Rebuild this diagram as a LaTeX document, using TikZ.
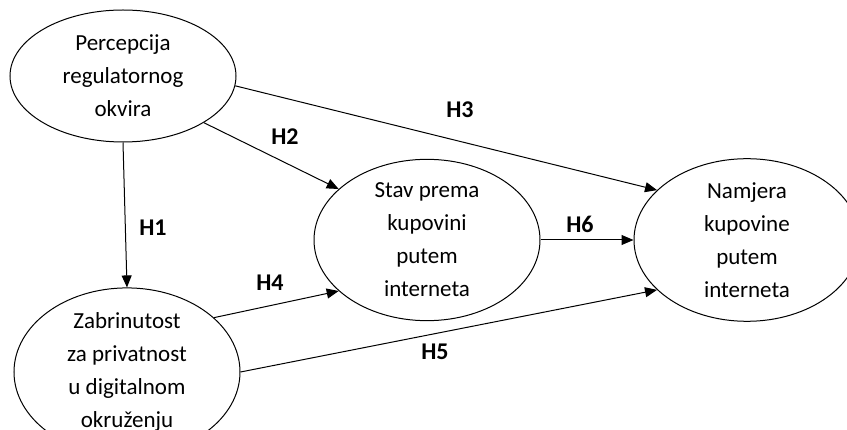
\documentclass[tikz,border=0pt]{standalone}
\usepackage{fontspec}
\setmainfont{Carlito}
\usetikzlibrary{shapes.geometric,arrows.meta}
\begin{document}
\begin{tikzpicture}
		[x=1pt,y=-1pt,
			construct/.style={ellipse,draw,line width=1pt,inner sep=0pt,minimum width=226pt,minimum height=132pt,
				align=center,font=\fontsize{23}{33}\selectfont},
			hyp/.style={-{Triangle[length=12pt,width=10pt]},line width=1pt},
			hlabel/.style={font=\fontsize{24}{26}\selectfont\bfseries}]
	\useasboundingbox (0,0) rectangle (847,430);
	\node[construct,name=p] at (123,76) {Percepcija\\regulatornog\\okvira};
	\node[construct,name=z] at (127,372) {Zabrinutost\\za privatnost\\u digitalnom\\okruženju};
	\node[construct,name=s] at (427,240) {Stav prema\\kupovini\\putem\\interneta};
	\node[construct,name=n] at (747,240) {Namjera\\kupovine\\putem\\interneta};
	\draw[hyp] (p.south) -- (z.north);
	\draw[hyp] (p.-30) -- (s.150);
	\draw[hyp] (p.-5) -- (n.151);
	\draw[hyp] (z.32) -- (s.210);
	\draw[hyp] (z.0) -- (n.209);
	\draw[hyp] (s.east) -- (n.west);
	\node[hlabel,name=h1] at (153,228) {H1};
	\node[hlabel,name=h2] at (285,137) {H2};
	\node[hlabel,name=h3] at (460,110) {H3};
	\node[hlabel,name=h4] at (270,283) {H4};
	\node[hlabel,name=h5] at (435,352) {H5};
	\node[hlabel,name=h6] at (580,224) {H6};
\end{tikzpicture}
\end{document}
